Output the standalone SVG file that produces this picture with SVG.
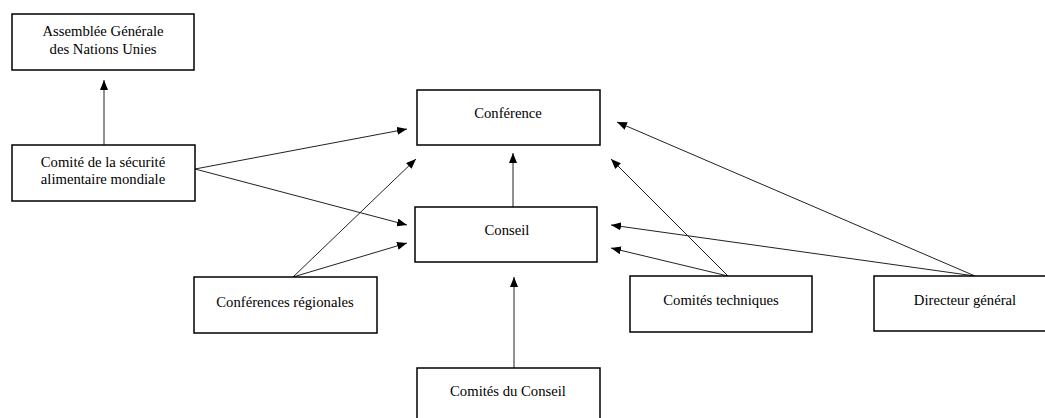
<svg xmlns="http://www.w3.org/2000/svg" width="1045" height="418" viewBox="0 0 1045 418">
<style>
.box{fill:#fff;stroke:#000;stroke-width:1.5}
.t{font-family:"Liberation Serif","Times New Roman",serif;font-size:14.7px;fill:#000;text-anchor:middle}
.c{stroke:#222;stroke-width:1;fill:none;marker-end:url(#ah)}
</style>
<defs>
<marker id="ah" markerUnits="userSpaceOnUse" markerWidth="10" markerHeight="8" refX="10" refY="4" orient="auto">
<path d="M0,0 L10,4 L0,8 z" fill="#000"/>
</marker>
</defs>
<rect width="1045" height="418" fill="#fff"/>
<g id="connectors">
<line class="c" x1="104" y1="145" x2="104" y2="80"/>
<line class="c" x1="195" y1="169" x2="407" y2="129"/>
<line class="c" x1="195" y1="169" x2="407" y2="225"/>
<line class="c" x1="293" y1="277" x2="416" y2="159"/>
<line class="c" x1="293" y1="277" x2="407" y2="243"/>
<line class="c" x1="513" y1="207" x2="513" y2="153"/>
<line class="c" x1="514" y1="368" x2="514" y2="277"/>
<line class="c" x1="728" y1="276" x2="611" y2="159"/>
<line class="c" x1="728" y1="276" x2="611" y2="248"/>
<line class="c" x1="975" y1="276" x2="617" y2="122"/>
<line class="c" x1="975" y1="276" x2="611" y2="225"/>
</g>
<g id="assemblee">
<rect class="box" x="12" y="14" width="182" height="56"/>
<text class="t" x="103" y="36">Assemblée Générale</text>
<text class="t" x="103" y="54">des Nations Unies</text>
</g>
<g id="csa">
<rect class="box" x="12" y="145" width="183" height="56"/>
<text class="t" x="103" y="167">Comité de la sécurité</text>
<text class="t" x="103" y="184">alimentaire mondiale</text>
</g>
<g id="conference">
<rect class="box" x="417" y="90" width="183" height="55"/>
<text class="t" x="508" y="118">Conférence</text>
</g>
<g id="conseil">
<rect class="box" x="415" y="207" width="182" height="55"/>
<text class="t" x="507" y="235">Conseil</text>
</g>
<g id="regionales">
<rect class="box" x="194" y="277" width="183" height="56"/>
<text class="t" x="285" y="307">Conférences régionales</text>
</g>
<g id="techniques">
<rect class="box" x="630" y="276" width="182" height="56"/>
<text class="t" x="721" y="305">Comités techniques</text>
</g>
<g id="directeur">
<rect class="box" x="874" y="276" width="183" height="55"/>
<text class="t" x="965" y="305">Directeur général</text>
</g>
<g id="comites-conseil">
<rect class="box" x="417" y="368" width="183" height="56"/>
<text class="t" x="508" y="396">Comités du Conseil</text>
</g>
</svg>
